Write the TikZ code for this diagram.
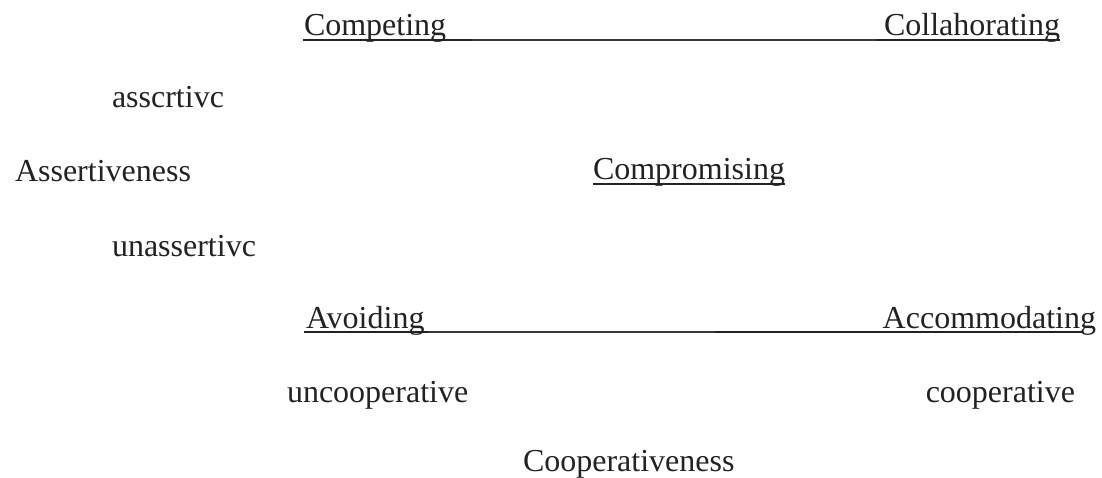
\documentclass[tikz,border=0pt]{standalone}
\usepackage{fontspec}
\setmainfont{Liberation Serif}
\definecolor{ink}{RGB}{34,34,34}
\tikzset{
  lbl/.style={anchor=base west,inner sep=0pt,outer sep=0pt,text=ink,font=\fontsize{32}{38}\selectfont},
  lblr/.style={lbl,anchor=base east},
  thinline/.style={draw=ink,line width=1.3pt},
  thickline/.style={draw=ink!90,line width=2.4pt}
}
\begin{document}
\begin{tikzpicture}[x=1pt,y=-1pt]
\useasboundingbox (0,0) rectangle (1102,478);
% top row
\node[lbl] (competing) at (304,36) {Competing};
\node[lblr] (collab) at (1060,36) {Collahorating};
% assertiveness axis
\node[lbl] (assertive) at (112,108) {asscrtivc};
\node[lbl] (assertiveness) at (15,182) {Assertiveness};
\node[lbl] (unassertive) at (112,256) {unassertivc};
% middle
\node[lbl] (compromising) at (593,180) {Compromising};
% bottom row
\node[lbl] (avoiding) at (306,328) {Avoiding};
\node[lblr] (accom) at (1096,328) {Accommodating};
% cooperativeness axis
\node[lbl] (uncoop) at (287,402) {uncooperative};
\node[lblr] (coop) at (1075,402) {cooperative};
\node[lbl] (cooperativeness) at (523,471) {Cooperativeness};
% underline coordinates
\coordinate (t1) at (303,40);
\coordinate (t2) at (472,40);
\coordinate (t3) at (876,40);
\coordinate (t4) at (1060,40);
\coordinate (b1) at (304,332);
\coordinate (b2) at (428,332);
\coordinate (b3) at (715,332);
\coordinate (b4) at (1082,332);
\coordinate (c1) at (593,184);
\coordinate (c2) at (785,184);
% top line
\draw[thinline] (t1) -- (t2);
\draw[thickline] (t2) -- (t3);
\draw[thinline] (t3) -- (t4);
% compromising underline
\draw[thinline] (c1) -- (c2);
% bottom line
\draw[thinline] (b1) -- (b2);
\draw[thickline] (b2) -- (b3);
\draw[thinline] (b3) -- (b4);
\end{tikzpicture}
\end{document}
